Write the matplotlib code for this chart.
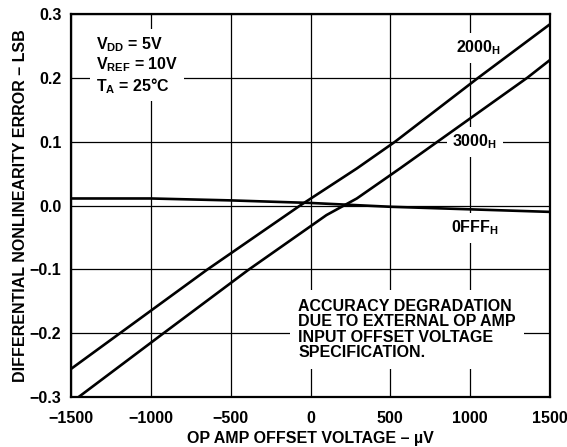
import matplotlib
matplotlib.use("Agg")
import matplotlib.pyplot as plt

plt.rcParams['font.family'] = ['Liberation Sans', 'DejaVu Sans']
plt.rcParams['font.weight'] = 'bold'
plt.rcParams['mathtext.fontset'] = 'custom'
plt.rcParams['mathtext.rm'] = 'Liberation Sans:bold'
plt.rcParams['mathtext.bf'] = 'Liberation Sans:bold'
plt.rcParams['mathtext.it'] = 'Liberation Sans:bold'

# Data
x_2000 = [-1500, -650, -65, 290, 530, 1050, 1500]
y_2000 = [-0.256, -0.101, 0.0, 0.058, 0.100, 0.200, 0.284]

x_3000 = [-1500, -920, -390, 100, 290, 560, 1357, 1500]
y_3000 = [-0.309, -0.200, -0.101, -0.015, 0.011, 0.058, 0.200, 0.228]

x_0fff = [-1500, -1000, -500, 0, 500, 1000, 1500]
y_0fff = [0.011, 0.011, 0.008, 0.004, -0.002, -0.006, -0.010]

x_ticks = [-1500, -1000, -500, 0, 500, 1000, 1500]
y_ticks = [-0.3, -0.2, -0.1, 0.0, 0.1, 0.2, 0.3]
y_tick_labels = ["\u22120.3", "\u22120.2", "\u22120.1", "0.0", "0.1", "0.2", "0.3"]
x_tick_labels = ["\u22121500", "\u22121000", "\u2212500", "0", "500", "1000", "1500"]

fig = plt.figure(figsize=(5.67, 4.47), dpi=100)
ax = fig.add_axes([71/567, 1-397/447, (550-71)/567, (397-14)/447])

fs = 11.5
ax.set_xlim(-1500, 1500)
ax.set_ylim(-0.3, 0.3)
ax.set_xticks(x_ticks)
ax.set_xticklabels(x_tick_labels)
ax.set_yticks(y_ticks)
ax.set_yticklabels(y_tick_labels)
ax.tick_params(axis='x', length=0, labelsize=fs, pad=10)
ax.tick_params(axis='y', length=0, labelsize=fs, pad=7)
for lab in ax.get_xticklabels() + ax.get_yticklabels():
    lab.set_fontweight('bold')

ax.grid(True, color='black', linewidth=0.9, zorder=1)
ax.set_axisbelow(True)
for s in ax.spines.values():
    s.set_linewidth(1.6)
    s.set_zorder(5)

lw = 1.9
ax.plot(x_2000, y_2000, color='black', lw=lw, zorder=4, solid_joinstyle='round')
ax.plot(x_3000, y_3000, color='black', lw=lw, zorder=4, solid_joinstyle='round')
ax.plot(x_0fff, y_0fff, color='black', lw=lw, zorder=4, solid_joinstyle='round')

ax.set_xlabel("OP AMP OFFSET VOLTAGE \u2013 \u00b5V", fontsize=fs, fontweight='bold', labelpad=4)
ax.set_ylabel("DIFFERENTIAL NONLINEARITY ERROR \u2013 LSB", fontsize=fs, fontweight='bold', labelpad=1)

box = dict(facecolor='white', edgecolor='none', pad=4)
ax.text(-1345, 0.267, r"$\mathrm{V_{DD}}$ = 5V" + "\n" + r"$\mathrm{V_{REF}}$ = 10V" + "\n" + r"$\mathrm{T_A}$ = 25°C",
        fontsize=fs, fontweight='bold', va='top', ha='left', linespacing=1.12, bbox=box, zorder=3)
ax.text(1050, 0.247, r"2000$\mathrm{_H}$", fontsize=fs, fontweight='bold', ha='center', va='center', bbox=box, zorder=3)
ax.text(1030, 0.100, r"3000$\mathrm{_H}$", fontsize=fs, fontweight='bold', ha='center', va='center', bbox=box, zorder=3)
ax.text(1030, -0.035, r"0FFF$\mathrm{_H}$", fontsize=fs, fontweight='bold', ha='center', va='center', bbox=box, zorder=3)
ax.text(-78, -0.146, "ACCURACY DEGRADATION\nDUE TO EXTERNAL OP AMP\nINPUT OFFSET VOLTAGE\nSPECIFICATION.",
        fontsize=fs, fontweight='bold', ha='left', va='top', linespacing=1.05,
        bbox=dict(facecolor='white', edgecolor='none', pad=6), zorder=3)

fig.savefig("out.png", dpi=100)
